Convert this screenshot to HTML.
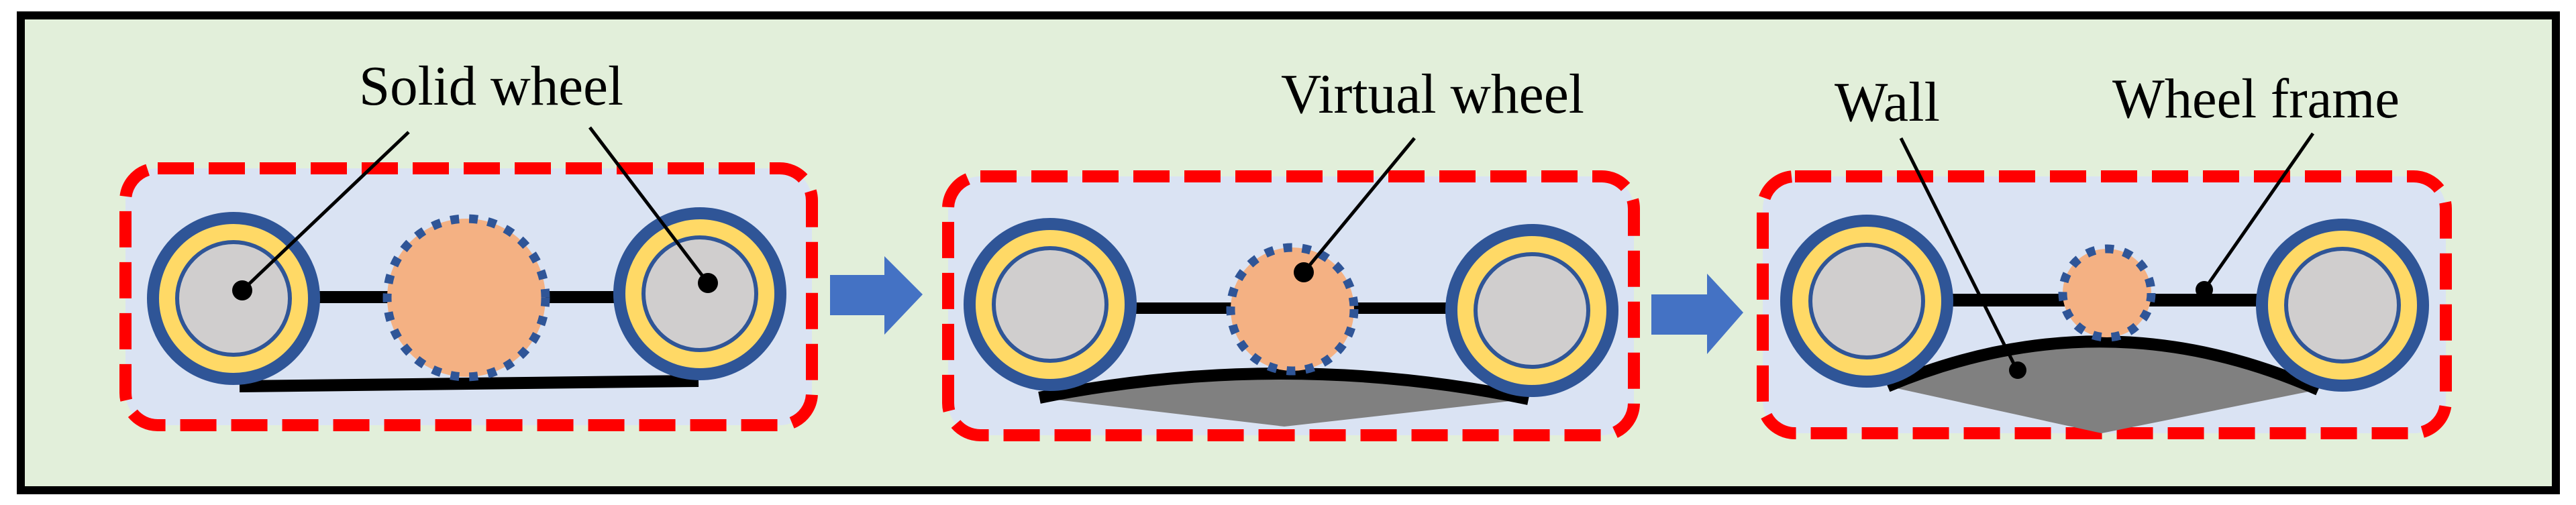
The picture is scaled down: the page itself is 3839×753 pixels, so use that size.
<!DOCTYPE html>
<html><head><meta charset="utf-8"><style>
html,body{margin:0;padding:0;background:#fff;}
svg{display:block;}
text{font-family:"Liberation Serif",serif;font-size:84px;fill:#000;}
</style></head><body>
<svg width="3839" height="753" viewBox="0 0 3839 753" xmlns="http://www.w3.org/2000/svg">
<defs>
<g id="wh">
<circle r="120" fill="#ffd966" stroke="#2f5597" stroke-width="18"/>
<circle r="84" fill="#d0cece" stroke="#2f5597" stroke-width="6"/>
</g>
</defs>
<rect x="31" y="23" width="3778" height="708" fill="#e2efda" stroke="#000" stroke-width="12"/>

<!-- Panel 1 -->
<rect x="187" y="251" width="1023" height="383" rx="48" fill="#dae3f3" stroke="#ff0000" stroke-width="18" stroke-dasharray="54 22"/>
<rect x="440" y="434" width="520" height="18" fill="#000"/>
<line x1="357" y1="576" x2="1041" y2="568" stroke="#000" stroke-width="18"/>
<use href="#wh" x="348" y="445"/>
<use href="#wh" x="1043" y="438"/>
<circle cx="695" cy="444" r="118" fill="#f4b183" stroke="#2f5597" stroke-width="13" stroke-dasharray="13 15"/>
<line x1="609" y1="197" x2="361" y2="433" stroke="#000" stroke-width="5"/>
<circle cx="361" cy="433" r="15" fill="#000"/>
<line x1="879" y1="190" x2="1055" y2="422" stroke="#000" stroke-width="5"/>
<circle cx="1055" cy="422" r="15" fill="#000"/>
<text x="535" y="156" textLength="394" lengthAdjust="spacingAndGlyphs">Solid wheel</text>

<!-- Arrow 1 -->
<polygon points="1237,410 1318,410 1318,382 1375,439 1318,499 1318,470 1237,470" fill="#4472c4"/>

<!-- Panel 2 -->
<rect x="1413" y="263" width="1022" height="386" rx="48" fill="#dae3f3" stroke="#ff0000" stroke-width="18" stroke-dasharray="54 22"/>
<path d="M1549,593 Q1914,520 2278,595 L1914,636 Z" fill="#808080"/>
<path d="M1549,593 Q1914,520 2278,595" fill="none" stroke="#000" stroke-width="18"/>
<rect x="1650" y="451" width="560" height="17" fill="#000"/>
<use href="#wh" x="1565" y="454"/>
<use href="#wh" x="2283" y="463"/>
<circle cx="1926" cy="461" r="92" fill="#f4b183" stroke="#2f5597" stroke-width="13" stroke-dasharray="13 15"/>
<line x1="2108" y1="206" x2="1943" y2="406" stroke="#000" stroke-width="5"/>
<circle cx="1943" cy="406" r="15" fill="#000"/>
<text x="1909" y="168" textLength="452" lengthAdjust="spacingAndGlyphs">Virtual wheel</text>

<!-- Arrow 2 -->
<polygon points="2461,439 2544,439 2544,408 2598,466 2544,528 2544,499 2461,499" fill="#4472c4"/>

<!-- Panel 3 -->
<rect x="2627" y="263" width="1018" height="383" rx="48" fill="#dae3f3" stroke="#ff0000" stroke-width="18" stroke-dasharray="54 22"/>
<path d="M2813,576 Q3136,440 3455,581 L3132,646 Z" fill="#808080"/>
<path d="M2813,576 Q3136,440 3455,581" fill="none" stroke="#000" stroke-width="18"/>
<rect x="2870" y="438" width="540" height="19" fill="#000"/>
<use href="#wh" x="2782" y="449"/>
<use href="#wh" x="3491" y="455"/>
<circle cx="3140" cy="437" r="66" fill="#f4b183" stroke="#2f5597" stroke-width="13" stroke-dasharray="13 15"/>
<line x1="2833" y1="206" x2="3007" y2="554" stroke="#000" stroke-width="5"/>
<circle cx="3007" cy="552" r="13" fill="#000"/>
<line x1="3447" y1="199" x2="3285" y2="432" stroke="#000" stroke-width="5"/>
<circle cx="3285" cy="432" r="13" fill="#000"/>
<text x="2734" y="180" textLength="157" lengthAdjust="spacingAndGlyphs">Wall</text>
<text x="3148" y="175" textLength="428" lengthAdjust="spacingAndGlyphs">Wheel frame</text>
</svg>
</body></html>
